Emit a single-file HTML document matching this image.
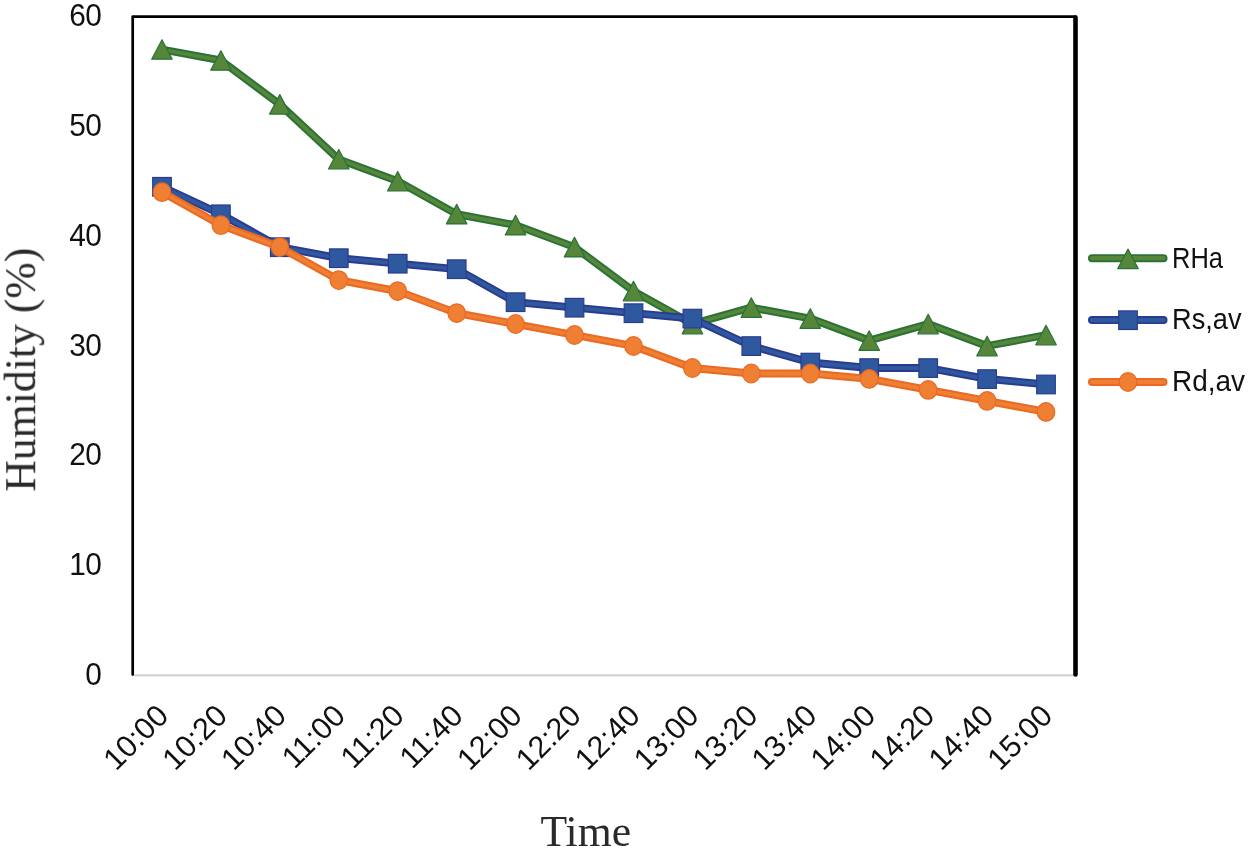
<!DOCTYPE html>
<html lang="en"><head><meta charset="utf-8"><title>Humidity vs Time</title>
<style>html,body{margin:0;padding:0;background:#fff;}body{width:1250px;height:851px;overflow:hidden;}svg{display:block;}.sans{font-family:"Liberation Sans",sans-serif;fill:#111;}.serif{font-family:"Liberation Serif",serif;fill:#2a2a2a;}</style></head><body>
<svg width="1250" height="851" viewBox="0 0 1250 851">
<rect width="1250" height="851" fill="#fff"/>
<line x1="134" y1="675.4" x2="1073.5" y2="675.4" stroke="#d3d3d3" stroke-width="2.4"/>
<path d="M132.7,674.6 L132.7,16.6 L1075.5,16.6" fill="none" stroke="#000" stroke-width="2.7" stroke-linejoin="round" stroke-linecap="round"/>
<line x1="1075.5" y1="17.6" x2="1075.5" y2="674.4" stroke="#000" stroke-width="4.6" stroke-linecap="round"/>
<g opacity="0.999">
<g class="sans" font-size="30.6" text-anchor="end" letter-spacing="-0.6">
<text transform="translate(101.2,685.1) scale(0.975,1)">0</text>
<text transform="translate(101.2,575.3) scale(0.975,1)">10</text>
<text transform="translate(101.2,465.4) scale(0.975,1)">20</text>
<text transform="translate(101.2,355.6) scale(0.975,1)">30</text>
<text transform="translate(101.2,245.8) scale(0.975,1)">40</text>
<text transform="translate(101.2,135.9) scale(0.975,1)">50</text>
<text transform="translate(101.2,26.1) scale(0.975,1)">60</text>
</g>
<g class="sans" font-size="30.6" text-anchor="end">
<text transform="translate(162.4,709.8) rotate(-45) scale(1.0,1)" x="0" y="11">10:00</text>
<text transform="translate(221.3,709.8) rotate(-45) scale(1.0,1)" x="0" y="11">10:20</text>
<text transform="translate(280.2,709.8) rotate(-45) scale(1.0,1)" x="0" y="11">10:40</text>
<text transform="translate(339.2,709.8) rotate(-45) scale(1.0,1)" x="0" y="11">11:00</text>
<text transform="translate(398.1,709.8) rotate(-45) scale(1.0,1)" x="0" y="11">11:20</text>
<text transform="translate(457.1,709.8) rotate(-45) scale(1.0,1)" x="0" y="11">11:40</text>
<text transform="translate(516.0,709.8) rotate(-45) scale(1.0,1)" x="0" y="11">12:00</text>
<text transform="translate(574.9,709.8) rotate(-45) scale(1.0,1)" x="0" y="11">12:20</text>
<text transform="translate(633.9,709.8) rotate(-45) scale(1.0,1)" x="0" y="11">12:40</text>
<text transform="translate(692.8,709.8) rotate(-45) scale(1.0,1)" x="0" y="11">13:00</text>
<text transform="translate(751.7,709.8) rotate(-45) scale(1.0,1)" x="0" y="11">13:20</text>
<text transform="translate(810.7,709.8) rotate(-45) scale(1.0,1)" x="0" y="11">13:40</text>
<text transform="translate(869.6,709.8) rotate(-45) scale(1.0,1)" x="0" y="11">14:00</text>
<text transform="translate(928.6,709.8) rotate(-45) scale(1.0,1)" x="0" y="11">14:20</text>
<text transform="translate(987.5,709.8) rotate(-45) scale(1.0,1)" x="0" y="11">14:40</text>
<text transform="translate(1046.4,709.8) rotate(-45) scale(1.0,1)" x="0" y="11">15:00</text>
</g>
<text class="serif" font-size="43.7" text-anchor="middle" transform="translate(35.2,369.7) rotate(-90)">Humidity (%)</text>
<text class="serif" font-size="44.4" text-anchor="middle" transform="translate(585.8,845.7) scale(0.985,1)">Time</text>
<g class="sans" font-size="30">
<text x="1172" y="268.0" textLength="51" lengthAdjust="spacingAndGlyphs">RHa</text>
<text x="1172" y="329.0" textLength="69.5" lengthAdjust="spacingAndGlyphs">Rs,av</text>
<text x="1172" y="390.9" textLength="73" lengthAdjust="spacingAndGlyphs">Rd,av</text>
</g>
</g>
<g>
<polyline points="162.0,49.5 220.9,60.4 279.8,104.4 338.8,159.3 397.7,181.2 456.7,214.2 515.6,225.2 574.5,247.1 633.5,291.1 692.4,324.0 751.3,307.6 810.3,318.5 869.2,340.5 928.2,324.0 987.1,346.0 1046.0,335.0" fill="none" stroke="#2b7237" stroke-width="7.8" stroke-linejoin="round" stroke-linecap="round"/>
<polyline points="162.0,49.5 220.9,60.4 279.8,104.4 338.8,159.3 397.7,181.2 456.7,214.2 515.6,225.2 574.5,247.1 633.5,291.1 692.4,324.0 751.3,307.6 810.3,318.5 869.2,340.5 928.2,324.0 987.1,346.0 1046.0,335.0" fill="none" stroke="#56863a" stroke-width="3.8" stroke-linejoin="round" stroke-linecap="round"/>
<polygon points="162.0,39.7 172.2,59.2 151.7,59.2" fill="#56863a" stroke="#2b7237" stroke-width="1.2" stroke-linejoin="round"/>
<polygon points="220.9,50.7 231.2,70.2 210.7,70.2" fill="#56863a" stroke="#2b7237" stroke-width="1.2" stroke-linejoin="round"/>
<polygon points="279.8,94.6 290.1,114.1 269.6,114.1" fill="#56863a" stroke="#2b7237" stroke-width="1.2" stroke-linejoin="round"/>
<polygon points="338.8,149.5 349.0,169.0 328.5,169.0" fill="#56863a" stroke="#2b7237" stroke-width="1.2" stroke-linejoin="round"/>
<polygon points="397.7,171.5 408.0,191.0 387.5,191.0" fill="#56863a" stroke="#2b7237" stroke-width="1.2" stroke-linejoin="round"/>
<polygon points="456.7,204.4 466.9,223.9 446.4,223.9" fill="#56863a" stroke="#2b7237" stroke-width="1.2" stroke-linejoin="round"/>
<polygon points="515.6,215.4 525.8,234.9 505.3,234.9" fill="#56863a" stroke="#2b7237" stroke-width="1.2" stroke-linejoin="round"/>
<polygon points="574.5,237.4 584.8,256.9 564.3,256.9" fill="#56863a" stroke="#2b7237" stroke-width="1.2" stroke-linejoin="round"/>
<polygon points="633.5,281.3 643.7,300.8 623.2,300.8" fill="#56863a" stroke="#2b7237" stroke-width="1.2" stroke-linejoin="round"/>
<polygon points="692.4,314.3 702.7,333.8 682.2,333.8" fill="#56863a" stroke="#2b7237" stroke-width="1.2" stroke-linejoin="round"/>
<polygon points="751.3,297.8 761.6,317.3 741.1,317.3" fill="#56863a" stroke="#2b7237" stroke-width="1.2" stroke-linejoin="round"/>
<polygon points="810.3,308.8 820.5,328.3 800.0,328.3" fill="#56863a" stroke="#2b7237" stroke-width="1.2" stroke-linejoin="round"/>
<polygon points="869.2,330.8 879.5,350.3 859.0,350.3" fill="#56863a" stroke="#2b7237" stroke-width="1.2" stroke-linejoin="round"/>
<polygon points="928.2,314.3 938.4,333.8 917.9,333.8" fill="#56863a" stroke="#2b7237" stroke-width="1.2" stroke-linejoin="round"/>
<polygon points="987.1,336.2 997.3,355.8 976.8,355.8" fill="#56863a" stroke="#2b7237" stroke-width="1.2" stroke-linejoin="round"/>
<polygon points="1046.0,325.3 1056.3,344.8 1035.8,344.8" fill="#56863a" stroke="#2b7237" stroke-width="1.2" stroke-linejoin="round"/>
</g>
<g>
<polyline points="162.0,186.7 220.9,214.2 279.8,247.1 338.8,258.1 397.7,263.6 456.7,269.1 515.6,302.1 574.5,307.6 633.5,313.1 692.4,318.5 751.3,346.0 810.3,362.5 869.2,368.0 928.2,368.0 987.1,378.9 1046.0,384.4" fill="none" stroke="#2b3c90" stroke-width="7.8" stroke-linejoin="round" stroke-linecap="round"/>
<polyline points="162.0,186.7 220.9,214.2 279.8,247.1 338.8,258.1 397.7,263.6 456.7,269.1 515.6,302.1 574.5,307.6 633.5,313.1 692.4,318.5 751.3,346.0 810.3,362.5 869.2,368.0 928.2,368.0 987.1,378.9 1046.0,384.4" fill="none" stroke="#2f599f" stroke-width="3.8" stroke-linejoin="round" stroke-linecap="round"/>
<rect x="152.7" y="177.5" width="18.6" height="18.6" fill="#2f599f" stroke="#2b3c90" stroke-width="1.2"/>
<rect x="211.6" y="205.0" width="18.6" height="18.6" fill="#2f599f" stroke="#2b3c90" stroke-width="1.2"/>
<rect x="270.5" y="237.9" width="18.6" height="18.6" fill="#2f599f" stroke="#2b3c90" stroke-width="1.2"/>
<rect x="329.5" y="248.9" width="18.6" height="18.6" fill="#2f599f" stroke="#2b3c90" stroke-width="1.2"/>
<rect x="388.4" y="254.4" width="18.6" height="18.6" fill="#2f599f" stroke="#2b3c90" stroke-width="1.2"/>
<rect x="447.4" y="259.9" width="18.6" height="18.6" fill="#2f599f" stroke="#2b3c90" stroke-width="1.2"/>
<rect x="506.3" y="292.9" width="18.6" height="18.6" fill="#2f599f" stroke="#2b3c90" stroke-width="1.2"/>
<rect x="565.2" y="298.4" width="18.6" height="18.6" fill="#2f599f" stroke="#2b3c90" stroke-width="1.2"/>
<rect x="624.2" y="303.9" width="18.6" height="18.6" fill="#2f599f" stroke="#2b3c90" stroke-width="1.2"/>
<rect x="683.1" y="309.3" width="18.6" height="18.6" fill="#2f599f" stroke="#2b3c90" stroke-width="1.2"/>
<rect x="742.0" y="336.8" width="18.6" height="18.6" fill="#2f599f" stroke="#2b3c90" stroke-width="1.2"/>
<rect x="801.0" y="353.3" width="18.6" height="18.6" fill="#2f599f" stroke="#2b3c90" stroke-width="1.2"/>
<rect x="859.9" y="358.8" width="18.6" height="18.6" fill="#2f599f" stroke="#2b3c90" stroke-width="1.2"/>
<rect x="918.9" y="358.8" width="18.6" height="18.6" fill="#2f599f" stroke="#2b3c90" stroke-width="1.2"/>
<rect x="977.8" y="369.8" width="18.6" height="18.6" fill="#2f599f" stroke="#2b3c90" stroke-width="1.2"/>
<rect x="1036.7" y="375.2" width="18.6" height="18.6" fill="#2f599f" stroke="#2b3c90" stroke-width="1.2"/>
</g>
<g>
<polyline points="162.0,192.2 220.9,225.2 279.8,247.1 338.8,280.1 397.7,291.1 456.7,313.1 515.6,324.0 574.5,335.0 633.5,346.0 692.4,368.0 751.3,373.5 810.3,373.5 869.2,378.9 928.2,389.9 987.1,400.9 1046.0,411.9" fill="none" stroke="#ea6a24" stroke-width="7.8" stroke-linejoin="round" stroke-linecap="round"/>
<polyline points="162.0,192.2 220.9,225.2 279.8,247.1 338.8,280.1 397.7,291.1 456.7,313.1 515.6,324.0 574.5,335.0 633.5,346.0 692.4,368.0 751.3,373.5 810.3,373.5 869.2,378.9 928.2,389.9 987.1,400.9 1046.0,411.9" fill="none" stroke="#ee7f33" stroke-width="3.8" stroke-linejoin="round" stroke-linecap="round"/>
<ellipse cx="162.0" cy="192.2" rx="8.8" ry="9.3" fill="#ee7f33" stroke="#ea6a24" stroke-width="1.2"/>
<ellipse cx="220.9" cy="225.2" rx="8.8" ry="9.3" fill="#ee7f33" stroke="#ea6a24" stroke-width="1.2"/>
<ellipse cx="279.8" cy="247.1" rx="8.8" ry="9.3" fill="#ee7f33" stroke="#ea6a24" stroke-width="1.2"/>
<ellipse cx="338.8" cy="280.1" rx="8.8" ry="9.3" fill="#ee7f33" stroke="#ea6a24" stroke-width="1.2"/>
<ellipse cx="397.7" cy="291.1" rx="8.8" ry="9.3" fill="#ee7f33" stroke="#ea6a24" stroke-width="1.2"/>
<ellipse cx="456.7" cy="313.1" rx="8.8" ry="9.3" fill="#ee7f33" stroke="#ea6a24" stroke-width="1.2"/>
<ellipse cx="515.6" cy="324.0" rx="8.8" ry="9.3" fill="#ee7f33" stroke="#ea6a24" stroke-width="1.2"/>
<ellipse cx="574.5" cy="335.0" rx="8.8" ry="9.3" fill="#ee7f33" stroke="#ea6a24" stroke-width="1.2"/>
<ellipse cx="633.5" cy="346.0" rx="8.8" ry="9.3" fill="#ee7f33" stroke="#ea6a24" stroke-width="1.2"/>
<ellipse cx="692.4" cy="368.0" rx="8.8" ry="9.3" fill="#ee7f33" stroke="#ea6a24" stroke-width="1.2"/>
<ellipse cx="751.3" cy="373.5" rx="8.8" ry="9.3" fill="#ee7f33" stroke="#ea6a24" stroke-width="1.2"/>
<ellipse cx="810.3" cy="373.5" rx="8.8" ry="9.3" fill="#ee7f33" stroke="#ea6a24" stroke-width="1.2"/>
<ellipse cx="869.2" cy="378.9" rx="8.8" ry="9.3" fill="#ee7f33" stroke="#ea6a24" stroke-width="1.2"/>
<ellipse cx="928.2" cy="389.9" rx="8.8" ry="9.3" fill="#ee7f33" stroke="#ea6a24" stroke-width="1.2"/>
<ellipse cx="987.1" cy="400.9" rx="8.8" ry="9.3" fill="#ee7f33" stroke="#ea6a24" stroke-width="1.2"/>
<ellipse cx="1046.0" cy="411.9" rx="8.8" ry="9.3" fill="#ee7f33" stroke="#ea6a24" stroke-width="1.2"/>
</g>
<line x1="1092" y1="258.2" x2="1163.5" y2="258.2" stroke="#2b7237" stroke-width="8.0" stroke-linecap="round"/>
<line x1="1092" y1="258.2" x2="1163.5" y2="258.2" stroke="#56863a" stroke-width="4.2" stroke-linecap="round"/>
<polygon points="1128.0,249.1 1138.2,268.6 1117.8,268.6" fill="#56863a" stroke="#2b7237" stroke-width="1.2" stroke-linejoin="round"/>
<line x1="1092" y1="320.1" x2="1163.5" y2="320.1" stroke="#2b3c90" stroke-width="8.0" stroke-linecap="round"/>
<line x1="1092" y1="320.1" x2="1163.5" y2="320.1" stroke="#2f599f" stroke-width="4.2" stroke-linecap="round"/>
<rect x="1118.7" y="310.9" width="18.6" height="18.6" fill="#2f599f" stroke="#2b3c90" stroke-width="1.2"/>
<line x1="1092" y1="382.0" x2="1163.5" y2="382.0" stroke="#ea6a24" stroke-width="8.0" stroke-linecap="round"/>
<line x1="1092" y1="382.0" x2="1163.5" y2="382.0" stroke="#ee7f33" stroke-width="4.2" stroke-linecap="round"/>
<ellipse cx="1128.0" cy="382.0" rx="8.8" ry="9.3" fill="#ee7f33" stroke="#ea6a24" stroke-width="1.2"/>
</svg></body></html>
